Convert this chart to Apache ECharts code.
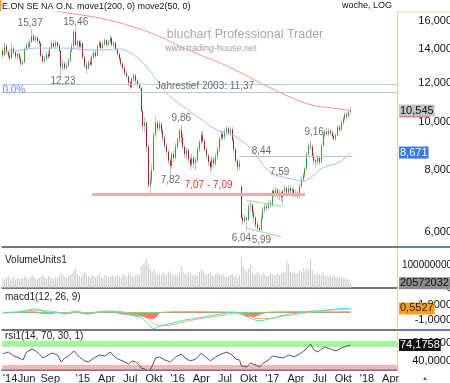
<!DOCTYPE html>
<html>
<head>
<meta charset="utf-8">
<script src="https://cdn.jsdelivr.net/npm/echarts@6/dist/echarts.min.js"></script>
<style>
html, body { margin: 0; padding: 0; background: #fff; }
#chart { width: 450px; height: 383px; }
</style>
</head>
<body>
<div id="chart"></div>
<script>
(function (window, document, echarts) {

  var fontFam = '"Liberation Sans", Arial, sans-serif';

  /** data **/
  var chartTitle = 'E.ON SE NA O.N. move1(200, 0) move2(50, 0)';
  var weekCount = 217;               // weekly slots from 2014-03-03 up to spring 2018
  var weeks = [];
  (function () {
    var d = new Date(Date.UTC(2014, 2, 3));
    for (var i = 0; i < weekCount; i++) {
      weeks.push(d.toISOString().slice(0, 10));
      d.setUTCDate(d.getUTCDate() + 7);
    }
  })();

  var xLabelMonths = ['2014-03','2014-06','2014-09','2015-01','2015-04','2015-07','2015-10','2016-01','2016-04','2016-07','2016-10','2017-01','2017-04','2017-07','2017-10','2018-01','2018-04'];
  var xLabelTexts  = ["'14",'Jun','Sep',"'15",'Apr','Jul','Okt',"'16",'Apr','Jul','Okt',"'17",'Apr','Jul','Okt',"'18",'Apr'];

  var priceTicks = [6, 8, 10, 12, 14, 16];
  var volumeTicks = [0, 100];          // millions
  var macdTicks = [1, -1];
  var rsiTicks = [80, 40];

  // weekly candles: [open, close, low, high]
  var candles = [
    [13.90,13.62,13.45,14.10],[13.62,14.20,13.55,14.45],[14.20,13.85,13.70,14.35],[13.85,13.60,13.40,13.95],
    [13.60,13.45,13.30,13.75],[13.45,14.05,13.40,14.40],[14.05,13.80,13.65,14.20],[13.80,13.55,13.40,13.90],
    [13.55,13.70,13.35,13.85],[13.70,13.40,13.30,13.80],[13.40,13.10,13.00,13.55],[13.10,13.20,12.98,13.35],
    [13.20,14.05,13.15,14.15],[14.05,14.30,13.95,14.45],[14.30,14.20,14.05,14.55],[14.20,14.50,14.10,14.70],
    [14.50,14.90,14.40,15.37],[14.90,14.60,14.50,15.10],[14.60,14.80,14.45,14.95],[14.80,14.55,14.35,14.90],
    [14.55,14.40,14.20,14.70],[14.40,13.60,13.50,14.50],[13.60,13.25,13.15,13.70],[13.25,13.40,13.15,13.60],
    [13.40,13.70,13.30,13.85],[13.70,13.55,13.40,13.90],[13.55,14.10,13.50,14.20],[14.10,14.40,14.00,14.55],
    [14.40,14.20,14.10,14.60],[14.20,14.45,14.05,14.60],[14.45,14.25,14.10,14.55],[14.25,13.90,13.80,14.35],
    [13.90,12.90,12.23,13.95],[12.90,13.10,12.70,13.30],[13.10,12.85,12.70,13.25],[12.85,13.00,12.75,13.20],
    [13.00,13.30,12.90,13.45],[13.30,13.90,13.20,14.00],[13.90,14.20,13.80,14.40],[14.20,15.20,14.10,15.30],
    [15.20,14.30,14.20,15.46],[14.30,14.55,14.10,14.70],[14.55,14.20,14.05,14.65],[14.20,14.40,14.10,14.60],
    [14.40,13.50,13.40,14.45],[13.50,13.00,12.85,13.60],[13.00,12.80,12.50,13.15],[12.80,13.20,12.75,13.35],
    [13.20,13.05,12.95,13.50],[13.05,13.50,12.98,13.65],[13.50,13.80,13.40,13.95],[13.80,13.60,13.45,13.95],
    [13.60,14.20,13.55,14.35],[14.20,14.45,14.10,14.60],[14.45,14.10,14.00,14.60],[14.10,14.35,14.00,14.55],
    [14.35,14.60,14.20,14.75],[14.60,14.30,14.20,14.70],[14.30,14.50,14.20,14.65],[14.50,14.75,14.40,14.97],
    [14.75,14.30,14.20,14.85],[14.30,14.45,14.10,14.55],[14.45,14.00,13.90,14.50],[14.00,13.70,13.55,14.10],
    [13.70,13.40,13.25,13.80],[13.40,13.10,12.95,13.50],[13.10,12.85,12.70,13.20],[12.85,12.55,12.40,12.95],
    [12.55,12.35,12.25,12.70],[12.35,12.00,11.80,12.40],[12.00,11.75,11.62,12.10],[11.75,12.20,11.70,12.35],
    [12.20,12.40,12.05,12.55],[12.40,12.10,11.95,12.50],[12.10,11.90,11.75,12.20],[11.90,11.70,11.60,12.00],
    [11.70,10.50,10.45,11.80],[10.50,9.80,9.60,10.60],[9.80,9.95,9.55,10.20],[9.95,8.90,8.70,10.05],
    [8.90,7.45,7.35,9.00],[7.45,7.60,7.12,7.90],[7.60,8.00,7.50,8.20],[8.00,9.40,7.95,9.50],
    [9.40,9.95,9.30,10.20],[9.95,9.70,9.55,10.10],[9.70,9.90,9.60,10.05],[9.90,9.60,9.45,10.00],
    [9.60,9.30,9.15,9.70],[9.30,8.95,8.80,9.40],[8.95,8.70,8.55,9.05],[8.70,8.35,8.20,8.80],
    [8.35,8.15,7.82,8.45],[8.15,8.60,8.05,8.70],[8.60,8.45,8.30,8.75],[8.45,8.90,8.40,9.05],
    [8.90,9.20,8.80,9.30],[9.20,9.60,9.10,9.70],[9.60,9.30,9.05,9.86],[9.30,8.90,8.80,9.45],
    [8.90,8.60,8.45,9.00],[8.60,8.75,8.40,8.90],[8.75,8.40,8.25,8.85],[8.40,8.20,8.00,8.55],
    [8.20,8.45,8.10,8.60],[8.45,8.25,8.05,8.55],[8.25,8.35,8.00,8.50],[8.35,8.80,8.30,8.90],
    [8.80,9.10,8.70,9.20],[9.10,9.40,9.00,9.55],[9.40,9.15,9.05,9.60],[9.15,8.80,8.70,9.25],
    [8.80,8.55,8.40,8.90],[8.55,8.30,8.15,8.65],[8.30,8.10,7.88,8.40],[8.10,8.40,8.00,8.55],
    [8.40,8.25,8.10,8.50],[8.25,8.50,8.15,8.65],[8.50,8.80,8.40,8.95],[8.80,9.25,8.70,9.35],
    [9.25,9.45,9.15,9.60],[9.45,9.30,9.20,9.60],[9.30,9.55,9.20,9.70],[9.55,9.70,9.40,9.80],
    [9.70,9.50,9.40,9.75],[9.50,9.65,9.35,9.75],[9.65,9.20,9.10,9.75],[9.20,8.80,8.65,9.30],
    [8.80,8.35,8.25,8.90],[8.35,8.10,7.95,8.45],[8.10,8.25,8.00,8.40],[7.40,6.40,6.35,7.45],
    [6.40,6.30,6.20,6.50],[6.30,6.40,6.25,6.50],[6.40,6.35,6.04,6.45],[6.35,6.75,6.30,6.85],
    [6.75,6.80,6.60,6.90],[6.80,6.55,6.45,6.85],[6.55,6.40,6.30,6.65],[6.40,6.20,6.10,6.45],
    [6.20,6.10,6.00,6.30],[6.10,6.05,5.99,6.20],[6.05,6.40,6.02,6.50],[6.40,6.65,6.35,6.75],
    [6.65,6.75,6.55,6.85],[6.75,6.70,6.60,6.85],[6.70,6.85,6.65,6.95],[6.85,6.80,6.70,6.95],
    [6.80,7.25,6.75,7.30],[7.25,7.15,7.05,7.35],[7.15,7.30,7.05,7.40],[7.30,7.10,7.00,7.35],
    [7.10,7.20,6.95,7.30],[7.20,7.05,6.90,7.25],[7.05,7.25,6.80,7.30],[7.25,7.35,7.15,7.45],
    [7.35,7.20,7.10,7.40],[7.20,7.35,7.10,7.45],[7.35,7.25,7.15,7.45],[7.25,7.30,7.10,7.40],
    [7.30,7.15,7.05,7.35],[7.15,7.20,7.05,7.30],[7.20,7.10,7.00,7.25],[7.10,7.40,7.05,7.50],
    [7.40,7.65,7.35,7.75],[7.65,7.80,7.55,7.90],[7.80,8.05,7.70,8.10],[8.05,8.60,8.00,8.70],
    [8.60,8.95,8.50,9.05],[8.95,8.90,8.75,9.16],[8.90,8.55,8.45,9.00],[8.55,8.35,8.20,8.65],
    [8.35,8.30,8.10,8.45],[8.30,8.45,8.20,8.55],[8.45,8.30,8.20,8.55],[8.30,8.95,8.25,9.05],
    [8.95,9.40,8.90,9.50],[9.40,9.55,9.30,9.65],[9.55,9.45,9.35,9.70],[9.45,9.60,9.35,9.70],
    [9.60,9.50,9.35,9.65],[9.50,9.35,9.25,9.60],[9.35,9.25,9.15,9.45],[9.25,9.40,9.15,9.50],
    [9.40,9.75,9.35,9.85],[9.75,9.65,9.55,9.85],[9.65,9.95,9.60,10.05],[9.95,10.15,9.85,10.25],
    [10.15,10.35,10.05,10.45],[10.35,10.25,10.10,10.45],[10.25,10.45,10.20,10.55],[10.45,10.545,10.40,10.70]
  ];

  // weekly volume in millions
  var volumes = [
    42,38,45,50,36,40,48,35,44,39, 46,41,52,47,38,43,55,49,40,37,
    44,48,58,45,40,52,47,43,39,46, 42,50,65,55,48,44,51,58,62,75,
    87,60,54,49,63,70,58,52,47,55, 50,46,53,60,48,44,57,51,45,49,
    55,47,52,58,50,46,61,54,49,63, 57,52,48,55,60,58,95,105,110,128,
    100,80,72,80,66,58,62,55,70,64, 59,68,74,61,55,60,57,66,95,72,
    63,58,70,66,55,61,57,52,68,85, 74,60,56,64,70,58,53,62,67,59,
    55,60,50,47,53,58,62,49,56,45, 52,130,95,80,72,85,100,68,58,64,
    70,61,55,66,59,52,57,63,60,54, 58,62,55,66,70,68,120,105,70,66,
    72,60,65,78,70,88,74,85,80,125, 74,62,58,66,60,55,63,52,58,50,
    55,48,53,46,50,44,49,42,45,38, 40,20.572032
  ];

  // moving averages at these weeks
  var ma200Weeks = [20,32,53,70,84,97,111,122,133,144,159,170,181,191];
  var ma200      = [17.0,16.66,16.2,15.61,14.97,14.22,13.52,13.02,12.43,11.86,11.17,10.81,10.66,10.54];
  var ma50Weeks  = [0,10,20,32,45,54,64,71,77,79,85,89,95,101,108,118,125,129,136,142,146,151,158,165,169,176,184,188,191];
  var ma50       = [13.77,13.96,14.09,14.09,14.0,13.96,14.03,13.70,13.17,12.90,12.09,11.53,11.0,10.60,10.18,9.61,9.45,9.28,8.84,8.27,7.97,7.79,7.68,7.61,7.72,8.08,8.27,8.46,8.671];

  var macdWeeks   = [0,8,15,18,24,30,34,40,46,52,58,64,70,76,80,83,86,92,100,110,120,126,132,137,141,148,155,162,170,178,185,191];
  var macd        = [-0.07,0.07,0.4,0.47,0.07,0,-0.2,0.2,-0.2,0.07,0.2,0.07,-0.33,-0.73,-1.53,-2.13,-1.8,-1.47,-1.0,-0.6,-0.2,0,-0.33,-0.87,-1.07,-0.73,-0.33,-0.07,0.2,0.33,0.5,0.5527];
  var signalWeeks = [0,10,18,26,34,40,48,56,64,70,76,80,84,88,94,102,112,122,128,134,140,146,154,162,170,178,185,191];
  var signal      = [0.0,0.1,0.3,0.2,-0.05,0.05,-0.05,0.1,0.12,-0.1,-0.45,-0.9,-1.6,-1.75,-1.55,-1.1,-0.7,-0.3,-0.1,-0.3,-0.8,-0.8,-0.5,-0.2,0.05,0.25,0.4,0.45];
  var histWeeks   = [0,10,16,22,26,30,36,40,44,48,52,60,66,72,76,80,82,84,86,88,100,120,128,131,134,137,140,143,146,160,180,191];
  var hist        = [0,0.05,0.1,-0.1,-0.15,0,-0.1,0.1,-0.1,-0.15,0.05,0.05,-0.2,-0.35,-0.45,-0.7,-0.85,-0.6,-0.1,0.05,0.1,0.08,0.05,-0.2,-0.5,-0.55,-0.35,-0.1,0.05,0.1,0.08,0.1];

  var rsiWeeks = [0,3,6,9,11,13,16,18,20,22,24,27,30,32,34,36,39,40,42,45,47,50,53,56,59,61,63,66,69,71,73,75,76,78,80,81,83,84,86,89,92,95,98,100,103,106,109,112,114,117,120,123,126,128,130,131,134,136,139,141,143,146,148,151,154,157,160,163,166,169,171,173,175,177,180,183,186,189,191];
  var rsi      = [54.4,58.9,50,45.6,41.1,58.9,65.6,61.1,54.4,45.6,50,56.7,52.2,36.7,45.6,50,61.1,56.7,47.8,38.9,36.7,45.6,52.2,50,58.9,50,43.3,38.9,32.2,38.9,36.7,30,23.3,21,10,12,36.7,45.6,47.8,41.1,36.7,47.8,54.4,45.6,38.9,43.3,56.7,45.6,38.9,47.8,54.4,58.9,52.2,43.3,41.1,27.8,25.6,34.4,30,25.6,34.4,41.1,50,47.8,45.6,52.2,47.8,54.4,63.3,76.7,63.3,58.9,65.6,70,65.6,61.1,67.8,72.2,74.1758];
  var rsiUpper = [70, 84];
  var rsiLower = [20, 30];

  // price notes on the chart
  var noteTexts  = ['15,37','15,46','12,23','9,86','7,82','8,44','7,59','6,04','5,99','9,16','Jahrestief 2003: 11,37'];
  var noteWeeks  = [15, 40, 33, 98, 92, 142, 152, 131, 142, 171, 111];
  var notePrices = [15.83, 15.90, 12.09, 10.18, 7.63, 8.73, 7.93, 5.82, 5.77, 9.53, 11.81];
  var zeroLevel = 11.92, yearLow = 11.50, support = 7.15, resist = 8.52;

  /** helpers **/
  function de(v, d) { return v.toFixed(d).replace('.', ','); }
  function pairs(xs, ys) { return xs.map(function (x, i) { return [x, ys[i]]; }); }
  function monthOf(i) { return weeks[i].slice(0, 7); }
  function isLabelWeek(i) {
    var m = monthOf(i);
    return xLabelMonths.indexOf(m) >= 0 && (i === 0 || monthOf(i - 1) !== m);
  }
  function tag(value, text, bg, fg) {
    return {
      yAxis: value,
      label: { show: true, position: 'end', distance: 2, formatter: text, backgroundColor: bg,
               color: fg, fontSize: 11, fontFamily: fontFam, padding: [1, 1, 0, 1], lineHeight: 11 }
    };
  }
  var hiddenLine = { width: 0, color: 'rgba(0,0,0,0)' };

  var last = candles.length - 1;
  var bodies = candles.map(function (c) { return [c[0], c[1], Math.min(c[0], c[1]), Math.max(c[0], c[1])]; });

  function xAxisFor(i) {
    return {
      type: 'category', gridIndex: i, data: weeks, boundaryGap: true,
      axisLine: { show: true, onZero: false, lineStyle: { color: '#4a4a4a', width: 1.5 } },
      axisTick: { show: false }, splitLine: { show: false },
      axisLabel: i === 3 ? {
        interval: function (idx) { return isLabelWeek(idx); },
        formatter: function (v) { return xLabelTexts[xLabelMonths.indexOf(v.slice(0, 7))]; },
        fontSize: 11, color: '#222', fontFamily: fontFam, margin: 3, alignMinLabel: 'left'
      } : { show: false }
    };
  }
  function yAxisFor(i, type, min, max, ticks, fmt, size) {
    return {
      type: type, gridIndex: i, position: 'right', min: min, max: max,
      axisLine: { show: true, lineStyle: { color: '#d8c88c', type: 'dotted' } },
      axisTick: { show: false }, splitLine: { show: false },
      axisLabel: { customValues: ticks, formatter: fmt, align: 'right', margin: 55,
                   fontSize: size || 11, color: '#111', fontFamily: fontFam }
    };
  }

  var chart = echarts.init(document.getElementById('chart'));

  var option = {
    animation: false,
    backgroundColor: '#fff',
    textStyle: { fontFamily: fontFam },
    grid: [
      { left: 2, width: 395, top: 12, height: 235, outerBoundsMode: 'none' },
      { left: 2, width: 395, top: 249, height: 39, outerBoundsMode: 'none' },
      { left: 2, width: 395, top: 290, height: 40, outerBoundsMode: 'none' },
      { left: 2, width: 395, top: 332, height: 38, outerBoundsMode: 'none' }
    ],
    xAxis: [xAxisFor(0), xAxisFor(1), xAxisFor(2), xAxisFor(3)],
    yAxis: [
      yAxisFor(0, 'log', 5.59, 16.66, priceTicks, function (v) { return de(v, 3); }),
      yAxisFor(1, 'value', 0, 169.6, volumeTicks, function (v) { return String(Math.round(v * 1e6)); }, 10),
      yAxisFor(2, 'value', -2.333, 3.0, macdTicks, function (v) { return de(v, 4); }),
      yAxisFor(3, 'value', 18.9, 103.3, rsiTicks, function (v) { return de(v, 4); })
    ],
    graphic: [
      { type: 'rect', shape: { x: 0, y: 0, width: 1.5, height: 11 }, style: { fill: '#f0a030' } },
      { type: 'text', x: 2, y: 7, style: { text: chartTitle, font: '9px ' + fontFam, fill: '#111', textVerticalAlign: 'middle' } },
      { type: 'text', x: 392, y: 6, style: { text: 'woche, LOG', font: '9px ' + fontFam, fill: '#111', textAlign: 'right', textVerticalAlign: 'middle' } },
      { type: 'text', x: 245, y: 35, style: { text: 'bluchart Professional Trader', font: '12.5px ' + fontFam, fill: '#a8a8a8', textAlign: 'center', textVerticalAlign: 'middle' } },
      { type: 'text', x: 165, y: 49, style: { text: 'www.trading-house.net', font: '9px ' + fontFam, fill: '#a0a0a0', textVerticalAlign: 'middle' } },
      { type: 'text', x: 5, y: 260, style: { text: 'VolumeUnits1', font: '10px ' + fontFam, fill: '#222', textVerticalAlign: 'middle' } },
      { type: 'text', x: 5, y: 297, style: { text: 'macd1(12, 26, 9)', font: '10px ' + fontFam, fill: '#222', textVerticalAlign: 'middle' } },
      { type: 'text', x: 5, y: 336, style: { text: 'rsi1(14, 70, 30, 1)', font: '10px ' + fontFam, fill: '#222', textVerticalAlign: 'middle' } },
      { type: 'line', shape: { x1: 397, y1: 12, x2: 450, y2: 12 }, style: { stroke: '#eadb9e', lineWidth: 1 } },
      { type: 'line', shape: { x1: 397, y1: 247, x2: 450, y2: 247 }, style: { stroke: '#3050c0', lineWidth: 1.5 } },
      { type: 'line', shape: { x1: 397, y1: 330, x2: 450, y2: 330 }, style: { stroke: '#3050c0', lineWidth: 1.5 } },
      { type: 'text', x: 425, y: 378, style: { text: '\u25B2', font: '6px ' + fontFam, fill: '#3050c0', textAlign: 'center', textVerticalAlign: 'middle' } }
    ],
    series: [
      {
        type: 'candlestick', xAxisIndex: 0, yAxisIndex: 0, data: candles, barWidth: 1, silent: true, z: 2,
        itemStyle: { color: '#bdbdbd', color0: '#bdbdbd', borderColor: '#bdbdbd', borderColor0: '#bdbdbd', borderWidth: 1 },
        markLine: {
          silent: true, symbol: 'none', label: { show: false },
          data: [
            { yAxis: zeroLevel, lineStyle: { color: '#b3cbf2', width: 1, type: 'solid' } },
            { yAxis: yearLow, lineStyle: { color: '#c6c6c6', width: 1, type: 'solid' } },
            [{ coord: [49, support], lineStyle: { color: '#f5a9a9', width: 3, type: 'solid' } }, { coord: [166, support] }],
            [{ coord: [130, resist], lineStyle: { color: '#c2c2c2', width: 1, type: 'solid' } }, { coord: [192, resist] }],
            [{ coord: [134, 6.94], lineStyle: { color: '#90e090', width: 1, type: 'solid' } }, { coord: [153, 6.75] }],
            [{ coord: [134, 6.10], lineStyle: { color: '#90e090', width: 1, type: 'solid' } }, { coord: [153, 5.86] }]
          ]
        }
      },
      {
        type: 'candlestick', xAxisIndex: 0, yAxisIndex: 0, data: bodies, barWidth: 0.6, silent: true, z: 3,
        itemStyle: { color: '#35a035', color0: '#962a2a', borderColor: '#35a035', borderColor0: '#962a2a', borderWidth: 1 },
        markPoint: {
          silent: true, symbol: 'circle', symbolSize: 0,
          label: { show: true, position: 'inside', color: '#6b6b6b', fontSize: 10, fontFamily: fontFam,
                   formatter: function (p) { return p.name; } },
          data: noteTexts.map(function (t, i) {
            return { name: t, coord: [noteWeeks[i], notePrices[i]] };
          }).concat([
            { name: '7,07 - 7,09', coord: [113, 7.45], label: { color: '#ee3030' } },
            { name: '0,0%', coord: [6, 11.59], label: { color: '#5b8def' } }
          ])
        },
        markLine: {
          silent: true, symbol: 'none', z: 10, lineStyle: hiddenLine,
          data: [tag(candles[last][1], de(candles[last][1], 3), '#c4c4c4', '#111')]
        }
      },
      {
        type: 'line', xAxisIndex: 0, yAxisIndex: 0, data: pairs(ma200Weeks, ma200), smooth: true,
        showSymbol: false, silent: true, z: 4, lineStyle: { color: '#f29292', width: 1 },
        markLine: {
          silent: true, symbol: 'none', z: 9, lineStyle: hiddenLine,
          data: [{ yAxis: ma200[ma200.length - 1], label: { show: true, position: 'end', distance: 2, offset: [0, 6],
                   formatter: '{u| }', rich: { u: { width: 30, height: 1.5, fontSize: 1, backgroundColor: '#e04040' } } } }]
        }
      },
      {
        type: 'line', xAxisIndex: 0, yAxisIndex: 0, data: pairs(ma50Weeks, ma50), smooth: true,
        showSymbol: false, silent: true, z: 4, lineStyle: { color: '#9dbcf5', width: 1 },
        markLine: {
          silent: true, symbol: 'none', z: 10, lineStyle: hiddenLine,
          data: [tag(ma50[ma50.length - 1], de(ma50[ma50.length - 1], 3), '#3a78f0', '#fff')]
        }
      },
      {
        type: 'bar', xAxisIndex: 1, yAxisIndex: 1, data: volumes, barWidth: 1, silent: true,
        itemStyle: { color: '#c9c9c9' },
        markLine: {
          silent: true, symbol: 'none', z: 10, lineStyle: hiddenLine,
          data: [tag(volumes[last], String(Math.round(volumes[last] * 1e6)), '#8c8c8c', '#111')]
        }
      },
      {
        type: 'line', xAxisIndex: 2, yAxisIndex: 2, smooth: true, showSymbol: false, silent: true,
        data: pairs(histWeeks, hist.map(function (v) { return v < 0 ? v : 0; })),
        lineStyle: { color: '#f07878', width: 1 }, areaStyle: { color: '#f47a7a', opacity: 1 }
      },
      {
        type: 'line', xAxisIndex: 2, yAxisIndex: 2, smooth: true, showSymbol: false, silent: true,
        data: pairs(histWeeks, hist.map(function (v) { return v > 0 ? v : 0; })),
        lineStyle: { color: '#66dd66', width: 1 }, areaStyle: { color: '#8ee88e', opacity: 1 }
      },
      {
        type: 'line', xAxisIndex: 2, yAxisIndex: 2, data: pairs(signalWeeks, signal), smooth: true,
        showSymbol: false, silent: true, lineStyle: { color: '#f3b066', width: 1 }
      },
      {
        type: 'line', xAxisIndex: 2, yAxisIndex: 2, data: pairs(macdWeeks, macd), smooth: true,
        showSymbol: false, silent: true, lineStyle: { color: '#45dede', width: 1 },
        markLine: {
          silent: true, symbol: 'none', z: 10, lineStyle: hiddenLine,
          data: [tag(macd[macd.length - 1], de(macd[macd.length - 1], 4), '#f5a020', '#222')]
        }
      },
      {
        type: 'line', xAxisIndex: 3, yAxisIndex: 3, data: pairs(rsiWeeks, rsi),
        showSymbol: false, silent: true, lineStyle: { color: '#555', width: 1 },
        markArea: {
          silent: true,
          data: [
            [{ yAxis: rsiUpper[0], itemStyle: { color: '#a6f5a0' } }, { yAxis: rsiUpper[1] }],
            [{ yAxis: rsiLower[0], itemStyle: { color: '#f9b4b4' } }, { yAxis: rsiLower[1] }]
          ]
        },
        markLine: {
          silent: true, symbol: 'none', z: 10, lineStyle: hiddenLine,
          data: [tag(rsi[rsi.length - 1], de(rsi[rsi.length - 1], 4), '#111', '#fff')]
        }
      }
    ]
  };

  chart.setOption(option);

})(window, document, echarts);
</script>
</body>
</html>
